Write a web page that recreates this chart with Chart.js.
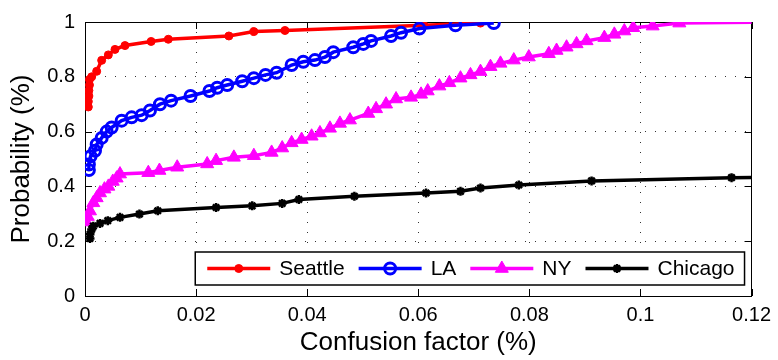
<!DOCTYPE html>
<html>
<head>
<meta charset="utf-8">
<script src="https://cdn.jsdelivr.net/npm/chart.js@4/dist/chart.umd.min.js"></script>
<style>
  body{margin:0;background:#fff;}
</style>
</head>
<body>
<canvas id="cdfChart" width="778" height="360"></canvas>
<script>
const seriesNames = ['Seattle', 'LA', 'NY', 'Chicago'];

const seattleX = [0.0006,0.0006,0.0007,0.0007,0.0008,0.0008,0.0012,0.0021,0.0030,0.0042,0.0054,0.0072,0.0119,0.0150,0.0259,0.0304,0.0360,0.0610,0.0712];
const seattleY = [0.69,0.71,0.73,0.75,0.77,0.79,0.80,0.82,0.86,0.88,0.90,0.914,0.929,0.937,0.949,0.965,0.969,0.988,0.996];

const laX = [0.0007,0.0007,0.0010,0.0018,0.0021,0.0030,0.0039,0.0048,0.0066,0.0084,0.0102,0.0117,0.0135,0.0155,0.0190,0.0224,0.0238,0.0256,0.0283,0.0304,0.0325,0.0345,0.0372,0.0393,0.0414,0.0432,0.0447,0.0483,0.0501,0.0515,0.0551,0.0569,0.0602,0.0667,0.0736];
const laY = [0.46,0.48,0.51,0.53,0.553,0.577,0.60,0.615,0.64,0.652,0.66,0.677,0.70,0.713,0.73,0.748,0.76,0.77,0.784,0.795,0.807,0.815,0.843,0.855,0.861,0.872,0.89,0.908,0.92,0.931,0.949,0.961,0.976,0.988,0.996];

const nyX = [0.0002,0.0005,0.0009,0.0015,0.0021,0.0027,0.0035,0.0042,0.0050,0.0057,0.0063,0.0114,0.0134,0.0166,0.0220,0.0236,0.0268,0.0304,0.0336,0.0355,0.0372,0.0390,0.0408,0.0423,0.0441,0.0459,0.0477,0.0510,0.0524,0.0542,0.0560,0.0587,0.0605,0.0617,0.0638,0.0656,0.0676,0.0694,0.0712,0.0730,0.0748,0.0772,0.0799,0.0835,0.0849,0.0867,0.0885,0.0903,0.0935,0.0953,0.0971,0.0987,0.1022,0.1070,0.1250];
const nyY = [0.27,0.29,0.31,0.34,0.358,0.376,0.39,0.40,0.418,0.43,0.445,0.45,0.458,0.47,0.482,0.494,0.506,0.512,0.524,0.54,0.559,0.571,0.583,0.595,0.612,0.63,0.642,0.666,0.683,0.70,0.719,0.725,0.736,0.748,0.766,0.778,0.795,0.807,0.819,0.837,0.849,0.861,0.872,0.884,0.896,0.908,0.92,0.931,0.943,0.955,0.967,0.979,0.985,0.996,1.0];

const chicagoX = [0.0009,0.0009,0.0012,0.0015,0.0027,0.0041,0.0063,0.0098,0.0131,0.0236,0.0301,0.0355,0.0385,0.0485,0.0614,0.0676,0.0712,0.0781,0.0912,0.1164,0.1250];
const chicagoY = [0.21,0.225,0.243,0.255,0.265,0.275,0.287,0.299,0.311,0.323,0.329,0.338,0.352,0.364,0.376,0.382,0.394,0.405,0.42,0.432,0.434];

const xTickLabels = ['0','0.02','0.04','0.06','0.08','0.1','0.12'];
const yTickLabels = ['0','0.2','0.4','0.6','0.8','1'];

const FONT = "'Liberation Sans', Arial, sans-serif";

const toPoints = (xs, ys) => xs.map((x, i) => ({x: x, y: ys[i]}));

const makeSet = (name, xs, ys, color, style, radius, bw, fill, order) => ({
  label: name,
  data: toPoints(xs, ys),
  borderColor: color,
  backgroundColor: fill,
  borderWidth: 3.5,
  pointStyle: style,
  pointRadius: radius,
  pointBorderWidth: bw,
  pointBorderColor: color,
  pointBackgroundColor: fill,
  tension: 0,
  order: order
});

// inside ticks + solid box, MATLAB style
const framePlugin = {
  id: 'frame',
  beforeDatasetsDraw(chart) {
    const {ctx, chartArea: a, scales: {x, y}} = chart;
    ctx.save();
    ctx.strokeStyle = '#000';
    ctx.lineWidth = 1;
    ctx.beginPath();
    x.ticks.forEach(t => {
      const px = Math.round(x.getPixelForValue(t.value)) + 0.5;
      ctx.moveTo(px, a.bottom); ctx.lineTo(px, a.bottom - 7);
      ctx.moveTo(px, a.top); ctx.lineTo(px, a.top + 7);
    });
    y.ticks.forEach(t => {
      const py = Math.round(y.getPixelForValue(t.value)) + 0.5;
      ctx.moveTo(a.left, py); ctx.lineTo(a.left + 7, py);
      ctx.moveTo(a.right, py); ctx.lineTo(a.right - 7, py);
    });
    ctx.stroke();
    ctx.strokeRect(Math.round(a.left) + 0.5, Math.round(a.top) + 0.5, Math.round(a.width) - 1, Math.round(a.height));
    ctx.restore();
  }
};

const boxLegend = {
  id: 'boxLegend',
  afterDatasetsDraw(chart) {
    const {ctx, chartArea: a} = chart;
    const sets = chart.data.datasets;
    ctx.save();
    ctx.font = '21px ' + FONT;
    const lineLen = 63, gapText = 9, gapItem = 14, padL = 12, padR = 10, h = 33;
    let w = padL + padR;
    sets.forEach((d, i) => {
      w += lineLen + gapText + ctx.measureText(d.label).width;
      if (i < sets.length - 1) w += gapItem;
    });
    const right = a.right - 7, bottom = a.bottom - 11;
    const left = right - w, top = bottom - h;
    ctx.fillStyle = '#fff';
    ctx.fillRect(left, top, w, h);
    ctx.strokeStyle = '#000';
    ctx.lineWidth = 1.5;
    ctx.strokeRect(left, top, w, h);
    const cy = top + h / 2;
    let cx = left + padL;
    sets.forEach(d => {
      ctx.strokeStyle = d.borderColor;
      ctx.lineWidth = d.borderWidth;
      ctx.beginPath();
      ctx.moveTo(cx, cy); ctx.lineTo(cx + lineLen, cy);
      ctx.stroke();
      ctx.fillStyle = d.pointBackgroundColor;
      ctx.lineWidth = d.pointBorderWidth;
      Chart.helpers.drawPoint(ctx, {
        pointStyle: d.pointStyle,
        radius: d.pointRadius,
        borderWidth: d.pointBorderWidth,
        rotation: 0
      }, cx + lineLen / 2, cy);
      cx += lineLen + gapText;
      ctx.fillStyle = '#000';
      ctx.textBaseline = 'middle';
      ctx.fillText(d.label, cx, cy + 1);
      cx += ctx.measureText(d.label).width + gapItem;
    });
    ctx.restore();
  }
};

new Chart(document.getElementById('cdfChart'), {
  type: 'line',
  data: {
    datasets: [
      makeSet(seriesNames[0], seattleX, seattleY, '#ff0000', 'circle', 4, 1, '#ff0000', 4),
      makeSet(seriesNames[1], laX, laY, '#0000ff', 'circle', 5.5, 3, 'rgba(0,0,0,0)', 3),
      makeSet(seriesNames[2], nyX, nyY, '#ff00ff', 'triangle', 7.5, 1, '#ff00ff', 2),
      makeSet(seriesNames[3], chicagoX, chicagoY, '#000000', 'star', 4.5, 2.5, '#000000', 1)
    ]
  },
  options: {
    responsive: false,
    animation: false,
    layout: {padding: {left: 0, top: 14, right: 22, bottom: 0}},
    plugins: {legend: {display: false}, tooltip: {enabled: false}},
    scales: {
      x: {
        type: 'linear',
        min: 0,
        max: 0.12,
        afterFit: s => { s.height = 64; },
        ticks: {
          stepSize: 0.02,
          color: '#000',
          padding: 7,
          font: {family: FONT, size: 20},
          maxRotation: 0,
          callback: (v, i) => xTickLabels[i]
        },
        grid: {color: '#333', lineWidth: 1, drawTicks: false},
        border: {display: false, dash: [1, 9]},
        title: {display: true, text: 'Confusion factor (%)', color: '#000', font: {family: FONT, size: 26}, padding: {top: 0, bottom: 2}}
      },
      y: {
        min: 0,
        max: 1,
        afterFit: s => { s.width = 85; },
        ticks: {
          stepSize: 0.2,
          color: '#000',
          padding: 10,
          font: {family: FONT, size: 20},
          callback: (v, i) => yTickLabels[i]
        },
        grid: {color: '#333', lineWidth: 1, drawTicks: false},
        border: {display: false, dash: [1, 9]},
        title: {display: true, text: 'Probability (%)', color: '#000', font: {family: FONT, size: 26}, padding: {top: 6, bottom: 0}}
      }
    }
  },
  plugins: [framePlugin, boxLegend]
});
</script>
</body>
</html>
